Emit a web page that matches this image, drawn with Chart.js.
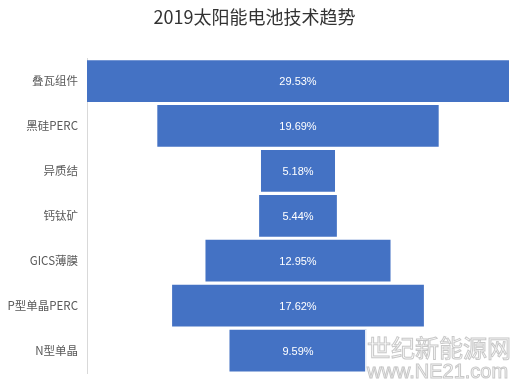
<!DOCTYPE html>
<html><head><meta charset="utf-8">
<script src="https://cdn.jsdelivr.net/npm/chart.js@4"></script>
<style>html,body{margin:0;padding:0;background:#fff}#wrap{width:520px;height:383px;position:relative}</style>
</head><body><div id="wrap"><canvas id="c" width="520" height="383"></canvas></div>
<script>
const categories = ["叠瓦组件","黑硅PERC","异质结","钙钛矿","GICS薄膜","P型单晶PERC","N型单晶"];
const values = [29.53, 19.69, 5.18, 5.44, 12.95, 17.62, 9.59];
const title = "2019太阳能电池技术趋势";

const maxV = Math.max(...values);
const floating = values.map(v => [-v/2, v/2]);

const labelPlugin = {
  id: 'vlabels',
  afterDatasetsDraw(chart) {
    const ctx = chart.ctx;
    const meta = chart.getDatasetMeta(0);
    ctx.save();
    ctx.fillStyle = '#ffffff';
    ctx.font = '11px "Liberation Sans", Arial, sans-serif';
    ctx.textAlign = 'center';
    ctx.textBaseline = 'middle';
    meta.data.forEach((el, i) => {
      const p = el.getProps(['x','base','y'], true);
      ctx.fillText(values[i].toFixed(2) + '%', (p.x + p.base)/2, p.y + 1);
    });
    ctx.restore();
  }
};
const watermark = {
  id: 'wm',
  afterDraw(chart) {
    const ctx = chart.ctx;
    ctx.save();
    ctx.fillStyle = 'rgba(255,255,255,0.85)';
    ctx.fillRect(365, 330, 150, 50);
    ctx.strokeStyle = '#c8c8c8';
    ctx.lineWidth = 1;
    ctx.font = '24px "Noto Sans CJK SC", sans-serif';
    ctx.textBaseline = 'alphabetic';
    ctx.textAlign = 'left';
    ctx.strokeText('世纪新能源网', 367, 357);
    ctx.font = '20px "Liberation Sans", sans-serif';
    ctx.strokeText('www.NE21.com', 367, 378);
    ctx.restore();
  }
};

new Chart(document.getElementById('c'), {
  type: 'bar',
  data: {
    labels: categories,
    datasets: [{
      data: floating,
      backgroundColor: '#4472C4',
      borderWidth: 0,
      barPercentage: 0.93,
      categoryPercentage: 1.0
    }]
  },
  options: {
    indexAxis: 'y',
    responsive: false,
    animation: false,
    layout: { padding: { left: 0, right: 11, top: 0, bottom: 10 } },
    plugins: {
      legend: { display: false },
      tooltip: { enabled: false },
      title: {
        display: true, text: title, color: '#333333',
        font: { size: 18, family: '"Noto Sans CJK SC", sans-serif', weight: 'normal' },
        padding: { top: 6, bottom: 31 }
      }
    },
    scales: {
      x: { display: false, min: -maxV/2, max: maxV/2 },
      y: {
        grid: { display: false, drawTicks: false },
        border: { color: '#d9d9d9' },
        afterFit(scale) { scale.width = 87; scale.paddingTop = 0; scale.paddingBottom = 0; },
        ticks: { color: '#595959', padding: 9,
          font: { size: 11.5, family: '"Noto Sans CJK SC", sans-serif' } }
      }
    }
  },
  plugins: [labelPlugin, watermark]
});
</script></body></html>
